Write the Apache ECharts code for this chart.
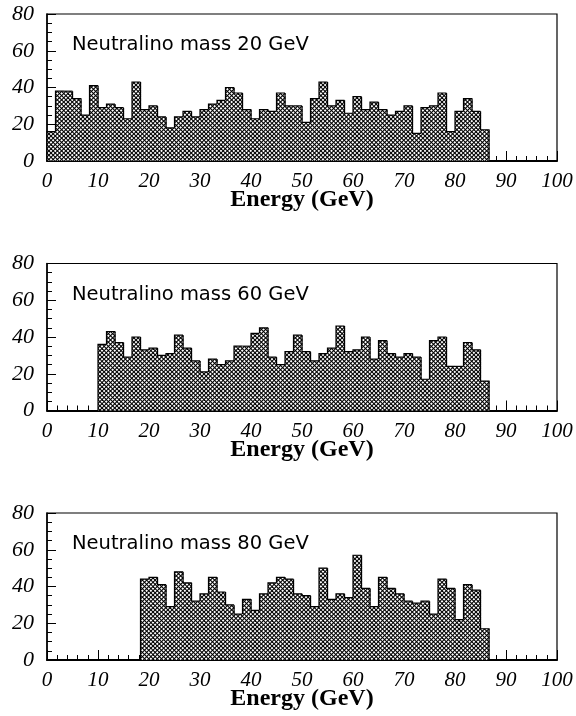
<!DOCTYPE html>
<html>
<head>
<meta charset="utf-8">
<script src="https://cdn.jsdelivr.net/npm/echarts@6/dist/echarts.min.js"></script>
<style>
html,body{margin:0;padding:0;background:#fff;}
#chart{width:576px;height:716px;}
</style>
</head>
<body>
<div id="chart"></div>
<script>
// ---- data ----
const binWidth = 100 / 60;            // GeV per bin
const masses = [20, 60, 80];          // neutralino masses (GeV)
const firstBins = [0, 6, 11];         // index of first filled bin
const counts20 = [16,38,38,34,25,41,29,31,29,23,43,28,30,24,18,24,27,24,28,31,33,40,37,28,23,28,27,37,30,30,21,34,43,30,33,26,35,28,32,28,25,27,30,15,29,30,37,16,27,34,27,17];
const counts60 = [36,43,37,29,40,33,34,30,31,41,34,27,21,28,25,27,35,35,42,45,29,25,32,41,32,27,31,34,46,32,33,40,28,38,31,29,31,29,17,38,40,24,24,37,33,16];
const counts80 = [44,45,41,29,48,42,32,36,45,37,30,25,33,27,36,42,45,44,36,35,29,50,33,36,34,57,39,29,45,39,36,32,31,32,25,44,39,22,41,38,17];
const allCounts = [counts20, counts60, counts80];
const xTicks = [0,10,20,30,40,50,60,70,80,90,100];
const yTicks = [0,20,40,60,80];

// ---- crosshatch pattern ----
const tile = document.createElement('canvas');
const T = 17, P = 17/4;
tile.width = T; tile.height = T;
const g = tile.getContext('2d');
g.fillStyle = '#fff'; g.fillRect(0,0,T,T);
g.strokeStyle = '#000'; g.lineWidth = 1.05;
for (let k = -8; k <= 8; k++) {
  g.beginPath(); g.moveTo(k*P - 2, -2); g.lineTo(k*P + T + 2, T + 2); g.stroke();
  g.beginPath(); g.moveTo(k*P - 2, T + 2); g.lineTo(k*P + T + 2, -2); g.stroke();
}
const hatch = {image: tile, repeat: 'repeat'};

const chart = echarts.init(document.getElementById('chart'), null, {renderer:'canvas'});

const tops = [14, 263.5, 513];
const plotH = 147;
const grids = [], xAxes = [], yAxes = [], series = [], graphics = [];
const serif = '"Liberation Serif", "Times New Roman", serif';

tops.forEach((top, p) => {
  grids.push({left: 47, right: 19, top: top, height: plotH, show: true,
    borderColor: '#000', borderWidth: 1.2, backgroundColor: 'transparent'});
  xAxes.push({type: 'value', gridIndex: p, min: 0, max: 100, interval: 10,
    axisLine: {show: true, onZero: false, lineStyle: {color: '#000', width: 2}},
    axisTick: {show: true, inside: true, length: 10, lineStyle: {color: '#000', width: 1}},
    minorTick: {show: true, splitNumber: 5, length: 5, lineStyle: {color: '#000', width: 1}},
    splitLine: {show: false},
    axisLabel: {fontFamily: serif, fontStyle: 'italic', fontSize: 21, color: '#000', margin: 10,
      formatter: v => xTicks.includes(v) ? String(v) : ''},
    name: 'Energy (GeV)', nameLocation: 'middle', nameGap: 27, nameMoveOverlap: false,
    nameTextStyle: {fontFamily: serif, fontWeight: 'bold', fontSize: 24, color: '#000'}
  });
  yAxes.push({type: 'value', gridIndex: p, min: 0, max: 80, interval: 20,
    axisLine: {show: true, lineStyle: {color: '#000', width: 1.5}},
    axisTick: {show: true, inside: true, length: 9, lineStyle: {color: '#000', width: 1}},
    minorTick: {show: true, splitNumber: 4, length: 5, lineStyle: {color: '#000', width: 1}},
    splitLine: {show: false},
    axisLabel: {fontFamily: serif, fontStyle: 'italic', fontSize: 22, color: '#000', margin: 13,
      formatter: v => yTicks.includes(v) ? String(v) : ''}
  });
  const counts = allCounts[p];
  const fb = firstBins[p];
  const data = counts.map((c, i) => [(fb + i) * binWidth, (fb + i + 1) * binWidth, c]);
  series.push({
    type: 'custom', xAxisIndex: p, yAxisIndex: p, z: 1,
    data: data,
    renderItem: (params, api) => {
      const idx = params.dataIndex;
      const x0 = api.value(0), x1 = api.value(1), v = api.value(2);
      const prev = idx > 0 ? counts[idx - 1] : 0;
      const last = idx === counts.length - 1;
      const b0 = api.coord([x0, 0]);
      const t1 = api.coord([x1, v]);
      const pv = api.coord([x0, prev]);
      const pts = [[b0[0], pv[1]], [b0[0], t1[1]], [t1[0], t1[1]]];
      if (last) pts.push([t1[0], b0[1]]);
      return {type: 'group', children: [
        {type: 'rect', shape: {x: b0[0], y: t1[1], width: t1[0] - b0[0] + 0.6, height: b0[1] - t1[1]},
          style: {fill: hatch, stroke: null}},
        {type: 'polyline', shape: {points: pts},
          style: {fill: null, stroke: '#000', lineWidth: 1.2}}
      ]};
    }
  });
  graphics.push({type: 'text', x: 72, y: top + 31, style: {
    text: 'Neutralino mass ' + masses[p] + ' GeV',
    font: 'normal 19.5px "DejaVu Sans"', fill: '#000', verticalAlign: 'middle'}});
});

chart.setOption({
  animation: false,
  backgroundColor: '#fff',
  grid: grids, xAxis: xAxes, yAxis: yAxes, series: series, graphic: graphics
});
</script>
</body>
</html>
